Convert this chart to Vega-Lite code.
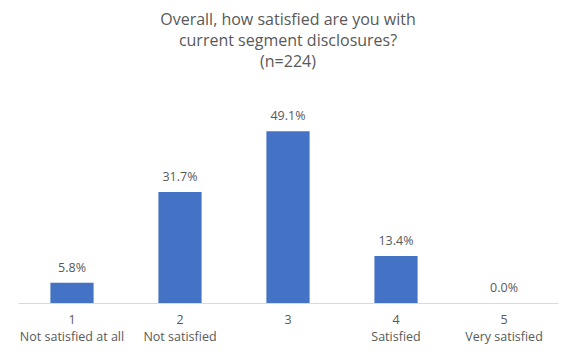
{
  "$schema": "https://vega.github.io/schema/vega-lite/v6.json",
  "width": 540,
  "height": 210,
  "autosize": {"type": "none"},
  "padding": {"left": 18, "top": 93, "right": 13, "bottom": 53},
  "background": "white",
  "title": {
    "text": ["Overall, how satisfied are you with", "current segment disclosures?", "(n=224)"],
    "anchor": "middle",
    "font": "Open Sans",
    "fontSize": 16,
    "fontWeight": "normal",
    "color": "#595959",
    "lineHeight": 21,
    "offset": 23
  },
  "data": {
    "values": [
      {"rating": "1|Not satisfied at all", "share": 0.058},
      {"rating": "2|Not satisfied", "share": 0.317},
      {"rating": "3", "share": 0.491},
      {"rating": "4|Satisfied", "share": 0.134},
      {"rating": "5|Very satisfied", "share": 0.0}
    ]
  },
  "encoding": {
    "x": {
      "field": "rating",
      "type": "nominal",
      "sort": null,
      "scale": {"paddingInner": 0.6, "paddingOuter": 0.3},
      "axis": {
        "title": null,
        "labelAngle": 0,
        "labelExpr": "split(datum.label, '|')",
        "labelFont": "Open Sans",
        "labelFontSize": 12.5,
        "labelColor": "#595959",
        "labelLineHeight": 17,
        "labelPadding": 10,
        "ticks": false,
        "domainColor": "#d9d9d9",
        "domainWidth": 1
      }
    },
    "y": {
      "field": "share",
      "type": "quantitative",
      "scale": {"domain": [0, 0.6]},
      "axis": null
    }
  },
  "layer": [
    {"mark": {"type": "bar", "color": "#4472C4"}},
    {
      "mark": {"type": "text", "baseline": "bottom", "dy": -8, "font": "Open Sans", "fontSize": 12.5, "color": "#595959"},
      "encoding": {"text": {"field": "share", "type": "quantitative", "format": ".1%"}}
    }
  ],
  "config": {"view": {"stroke": null}}
}
